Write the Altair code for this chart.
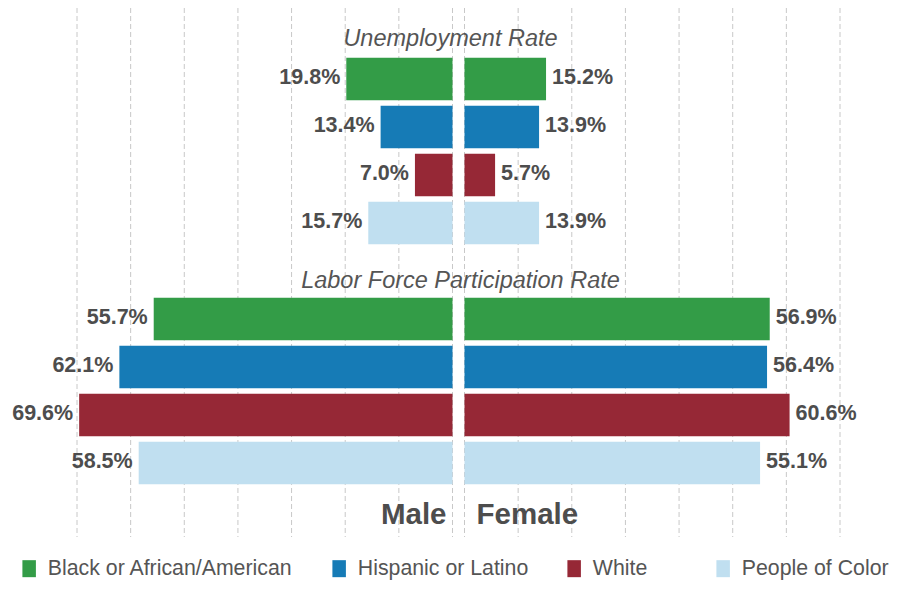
import altair as alt
import pandas as pd

# ---- data ----
races = ["Black or African/American", "Hispanic or Latino", "White", "People of Color"]
colors = ["#339c47", "#167bb6", "#962836", "#c0dff0"]
metrics = ["Unemployment Rate", "Labor Force Participation Rate"]
sexes = ["Male", "Female"]

male_unemp = [19.8, 13.4, 7.0, 15.7]
female_unemp = [15.2, 13.9, 5.7, 13.9]
male_lfpr = [55.7, 62.1, 69.6, 58.5]
female_lfpr = [56.9, 56.4, 60.6, 55.1]

grid_ticks = [0, 10, 20, 30, 40, 50, 60, 70]

# ---- layout constants ----
GAP = 1.12          # half of the central gap, in percentage units
HALF_BAR = 0.445    # half bar thickness in row units
ROWS_PER_BLOCK = 5

series = {
    ("Unemployment Rate", "Male"): male_unemp,
    ("Unemployment Rate", "Female"): female_unemp,
    ("Labor Force Participation Rate", "Male"): male_lfpr,
    ("Labor Force Participation Rate", "Female"): female_lfpr,
}

records = []
for mi, metric in enumerate(metrics):
    for sex in sexes:
        sign = -1 if sex == "Male" else 1
        for ri, race in enumerate(races):
            v = series[(metric, sex)][ri]
            row = mi * ROWS_PER_BLOCK + 1 + ri
            records.append(dict(
                metric=metric, sex=sex, race=race, value=v, row=row,
                y0=row - HALF_BAR, y1=row + HALF_BAR,
                x0=sign * GAP, x1=sign * (GAP + v), label=f"{v:.1f}%",
            ))
df = pd.DataFrame(records)

titles_df = pd.DataFrame({"metric": metrics,
                          "row": [i * ROWS_PER_BLOCK for i in range(len(metrics))]})
sex_df = pd.DataFrame({"sex": sexes, "row": [2 * ROWS_PER_BLOCK] * 2,
                       "x": [-GAP, GAP]})
grid_df = pd.DataFrame({"gx": [s * (GAP + t) for s in (-1, 1) for t in grid_ticks]})

xscale = alt.Scale(domain=[-(70 + GAP), 70 + GAP], nice=False, zero=False)
yscale = alt.Scale(domain=[-0.479, 10.542], nice=False, zero=False, reverse=True)

TEXT = "#4d4d4d"
FONT = "Liberation Sans"
PAD = "\u2800"  # blank glyph (not trimmed as whitespace) to widen the "White" entry

grid = alt.Chart(grid_df).mark_rule(
    color="#c8c8c8", strokeDash=[5, 3], strokeWidth=1
).encode(x=alt.X("gx:Q", scale=xscale, axis=None))

bars = alt.Chart(df).mark_rect().encode(
    x=alt.X("x0:Q", scale=xscale, axis=None),
    x2="x1:Q",
    y=alt.Y("y0:Q", scale=yscale, axis=None),
    y2="y1:Q",
    color=alt.Color(
        "race:N",
        scale=alt.Scale(domain=races, range=colors),
        legend=alt.Legend(
            orient="none", legendX=-58.5, legendY=550, direction="horizontal",
            title=None, labelFontSize=21.3, labelFont=FONT, labelColor="#555555",
            symbolType="M-0.794,-1H0.794V1H-0.794Z", symbolSize=289,
            symbolStrokeWidth=0, symbolOpacity=1, labelOffset=8,
            columnPadding=35, padding=0, labelLimit=500,
            labelExpr="datum.label == 'White' ? 'White" + PAD * 2 + "' : datum.label",
        ),
    ),
)

label_style = dict(font=FONT, fontSize=21.5, fontWeight="bold", color=TEXT,
                   baseline="middle", dy=-1)

male_labels = alt.Chart(df).transform_filter(alt.datum.sex == "Male").mark_text(
    align="right", dx=-6, **label_style
).encode(x=alt.X("x1:Q", scale=xscale), y=alt.Y("row:Q", scale=yscale), text="label:N")

female_labels = alt.Chart(df).transform_filter(alt.datum.sex == "Female").mark_text(
    align="left", dx=6, **label_style
).encode(x=alt.X("x1:Q", scale=xscale), y=alt.Y("row:Q", scale=yscale), text="label:N")

title_style = dict(font=FONT, fontSize=23.5, fontStyle="italic", color="#555555",
                   align="center", baseline="alphabetic")

title_u = alt.Chart(titles_df).transform_filter(
    alt.datum.metric == metrics[0]).mark_text(dx=-8, dy=15.5, **title_style).encode(
    x=alt.value(381.5), y=alt.Y("row:Q", scale=yscale), text="metric:N")

title_l = alt.Chart(titles_df).transform_filter(
    alt.datum.metric == metrics[1]).mark_text(dx=2, dy=17.5, **title_style).encode(
    x=alt.value(381.5), y=alt.Y("row:Q", scale=yscale), text="metric:N")

sex_style = dict(font=FONT, fontSize=29.5, fontWeight="bold", color=TEXT,
                 baseline="alphabetic", dy=13.5)

male_txt = alt.Chart(sex_df).transform_filter(alt.datum.sex == "Male").mark_text(
    align="right", dx=-6, **sex_style
).encode(x=alt.X("x:Q", scale=xscale), y=alt.Y("row:Q", scale=yscale), text="sex:N")

female_txt = alt.Chart(sex_df).transform_filter(alt.datum.sex == "Female").mark_text(
    align="left", dx=12, **sex_style
).encode(x=alt.X("x:Q", scale=xscale), y=alt.Y("row:Q", scale=yscale), text="sex:N")

chart = alt.layer(
    grid, bars, male_labels, female_labels, title_u, title_l, male_txt, female_txt
).properties(
    width=763, height=529,
    autosize=alt.AutoSizeParams(type="none"),
    padding={"left": 69, "top": 0, "right": 51, "bottom": 44},
).configure_view(stroke=None)

chart.save("out.html", embed_options={"renderer": "svg", "actions": False})
